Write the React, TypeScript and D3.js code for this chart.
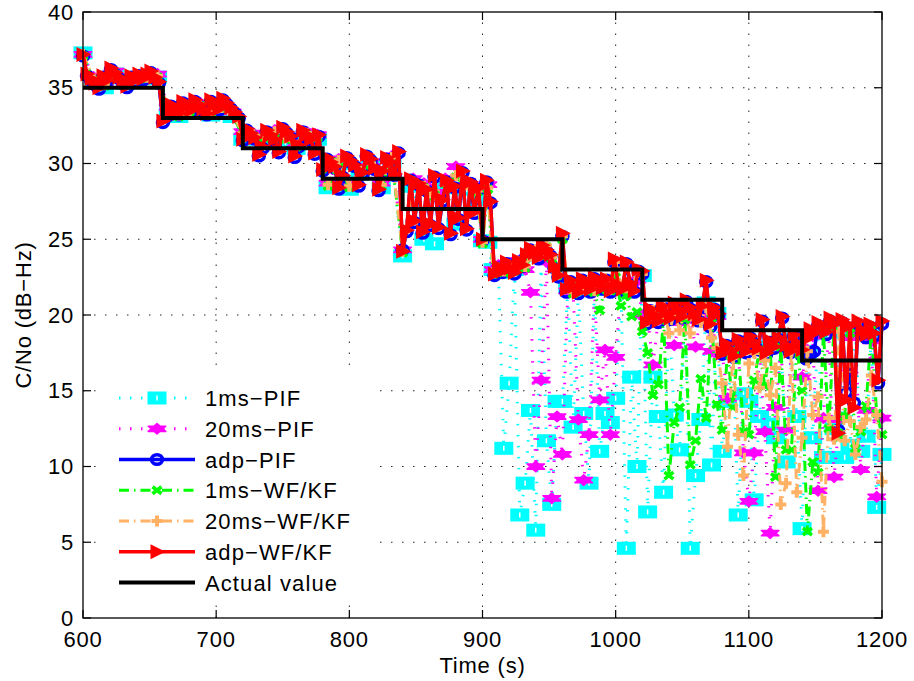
import React from 'react';
import * as d3 from 'd3';

// ---------- axis ----------
const xTicks = [600, 700, 800, 900, 1000, 1100, 1200];
const yTicks = [0, 5, 10, 15, 20, 25, 30, 35, 40];

// ---------- actual value (staircase) ----------
const actualTimes = [600, 660, 720, 780, 840, 900, 960, 1020, 1080, 1140, 1200];
const actualValues = [35, 33, 31, 29, 27, 25, 23, 21, 19, 17, 17];

// ---------- time grids ----------
const fineTimes = d3.range(600, 1201, 3);   // adaptive filters, every 3 s
const earlyTimes = d3.range(600, 897, 8);   // fixed filters, 600-896 s
const lateTimes = d3.range(900, 1201, 4);   // fixed filters, 900-1200 s

// ---------- adp-WF/KF (red), every 3 s ----------
const adpWFKF = [
  37.2, 35.9, 35.6, 35.3, 35.0, 35.8, 35.5, 36.3, 36.0, 35.7, 35.4, 35.1, 35.8, 35.5, 35.9, 35.6, 35.9, 36.1, 35.7, 35.4,
  32.8, 33.2, 33.9, 33.6, 33.3, 34.1, 33.8, 33.5, 34.2, 33.9, 33.6, 33.3, 34.2, 33.9, 33.6, 34.3, 34.0, 33.7, 33.4, 33.1,
  31.6, 32.3, 32.0, 31.7, 30.6, 31.1, 32.2, 31.9, 31.6, 30.8, 32.4, 32.1, 31.8, 30.5, 31.2, 32.2, 31.9, 31.6, 30.7, 31.9,
  29.6, 30.4, 30.1, 29.8, 28.4, 29.2, 30.5, 30.2, 29.9, 28.6, 29.4, 30.6, 30.3, 29.7, 28.3, 29.5, 30.4, 30.1, 29.3, 30.8,
  24.2, 25.6, 29.0, 26.2, 28.7, 25.5, 28.3, 26.0, 29.2, 25.8, 27.6, 28.9, 25.4, 28.5, 26.4, 29.5, 25.7, 28.8, 26.8, 28.4,
  25.0, 28.9, 27.5, 22.7, 23.2, 22.9, 23.5, 23.1, 22.8, 23.6, 23.3, 24.0, 24.4, 24.1, 23.8, 24.6, 24.3, 24.0, 23.2, 22.6,
  25.4, 21.7, 22.3, 21.9, 21.5, 22.4, 22.1, 21.7, 22.5, 22.2, 21.8, 22.4, 21.6, 23.7, 22.0, 21.7, 23.5, 22.1, 21.6, 23.0,
  22.9, 19.5, 20.4, 20.0, 19.6, 20.6, 20.2, 19.8, 20.8, 20.4, 19.9, 21.0, 20.5, 20.1, 19.7, 20.6, 22.3, 19.4, 20.5, 20.1,
  17.5, 18.1, 17.7, 17.3, 18.4, 18.0, 17.6, 18.6, 18.2, 17.8, 19.7, 17.5, 18.3, 17.9, 18.5, 19.9, 18.0, 17.6, 18.7, 18.1,
  17.7, 18.4, 19.1, 18.8, 19.5, 19.2, 18.9, 19.8, 19.4, 12.2, 19.7, 14.4, 19.3, 13.9, 19.6, 19.0, 18.7, 19.4, 18.8, 15.7,
  19.6,
];

// ---------- adp-PIF (blue), every 3 s ----------
const adpPIF = [
  37.1, 35.8, 35.5, 35.2, 34.9, 35.7, 35.4, 36.2, 35.9, 35.6, 35.3, 35.0, 35.7, 35.4, 35.8, 35.5, 35.8, 36.0, 35.6, 35.3,
  32.7, 33.1, 33.8, 33.5, 33.2, 34.0, 33.7, 33.4, 34.1, 33.8, 33.5, 33.2, 34.1, 33.8, 33.5, 34.2, 33.9, 33.6, 33.3, 33.0,
  31.5, 32.2, 31.9, 31.6, 30.5, 31.0, 32.1, 31.8, 31.5, 30.7, 32.3, 32.0, 31.7, 30.4, 31.1, 32.1, 31.8, 31.5, 30.6, 31.8,
  29.5, 30.3, 30.0, 29.7, 28.3, 29.1, 30.4, 30.1, 29.8, 28.5, 29.3, 30.5, 30.2, 29.6, 28.2, 29.4, 30.3, 30.0, 29.2, 30.7,
  24.3, 25.5, 28.9, 26.1, 28.6, 25.4, 28.2, 25.9, 29.1, 25.7, 27.5, 28.8, 25.3, 28.4, 26.3, 29.4, 25.6, 28.7, 26.7, 28.3,
  24.9, 28.8, 27.4, 22.6, 23.1, 22.8, 23.4, 23.0, 22.7, 23.5, 23.2, 23.9, 24.3, 24.0, 23.7, 24.5, 24.2, 23.9, 23.1, 22.5,
  25.2, 21.5, 22.2, 21.8, 21.4, 22.3, 22.0, 21.5, 22.4, 22.1, 21.7, 22.3, 21.5, 23.5, 21.9, 21.6, 23.4, 22.0, 21.5, 22.9,
  22.7, 19.4, 20.3, 19.9, 19.5, 20.5, 20.1, 19.7, 20.7, 20.3, 19.8, 20.9, 20.4, 20.0, 19.6, 20.5, 22.2, 19.2, 20.4, 20.0,
  17.4, 18.0, 17.6, 17.2, 18.3, 17.9, 17.5, 18.5, 18.1, 17.7, 19.6, 17.4, 18.2, 17.8, 18.4, 19.8, 17.9, 17.5, 18.6, 18.0,
  17.3, 17.1, 17.4, 17.6, 19.3, 19.0, 18.7, 19.6, 19.2, 12.4, 19.5, 14.9, 16.1, 14.2, 19.4, 18.8, 18.5, 19.2, 18.6, 15.5,
  19.4,
];

// ---------- fixed-bandwidth filters, early part (600-896 s, every 8 s) ----------
const pif1msEarly = [
  37.3, 35.4, 35.0, 35.9, 35.3, 35.5, 35.6, 35.7, 33.2, 33.1, 33.3, 33.8, 33.2, 33.5, 33.1,
  31.6, 31.7, 31.5, 31.9, 31.4, 31.0, 31.8, 31.6, 28.4, 30.0, 28.3, 29.3, 29.8, 28.4, 30.1,
  23.9, 28.5, 25.0, 24.7, 28.4, 26.0, 28.3, 27.6,
];
const pif20msEarly = [
  37.2, 35.7, 35.3, 36.1, 35.5, 35.7, 35.8, 35.9, 33.7, 33.4, 33.6, 34.0, 33.5, 33.8, 33.4,
  32.1, 32.0, 31.9, 32.2, 31.8, 31.3, 32.1, 31.9, 28.7, 30.3, 28.6, 29.7, 30.1, 28.7, 30.5,
  24.3, 29.0, 28.7, 28.1, 29.0, 29.8, 28.8, 28.4,
];
const wf1msEarly = [
  37.1, 35.5, 35.1, 35.9, 35.3, 35.5, 35.6, 35.7, 33.5, 33.1, 33.4, 33.8, 33.3, 33.6, 33.2,
  31.9, 31.8, 31.7, 32.0, 31.6, 31.1, 31.9, 31.7, 28.5, 30.1, 28.4, 29.5, 29.9, 28.5, 30.3,
  24.1, 28.7, 28.4, 27.8, 28.7, 29.1, 28.5, 28.1,
];
const wf20msEarly = [
  37.2, 35.6, 35.2, 36.0, 35.4, 35.6, 35.7, 35.8, 33.6, 33.2, 33.5, 33.9, 33.4, 33.7, 33.3,
  32.0, 31.9, 31.8, 32.1, 31.7, 31.2, 32.0, 31.8, 28.6, 30.2, 28.5, 29.6, 30.0, 28.6, 30.4,
  24.2, 28.8, 28.5, 27.9, 28.8, 29.2, 28.6, 28.2,
];

// ---------- fixed-bandwidth filters, late part (900-1200 s, every 4 s) ----------
const pif1msLate = [
  24.9, 24.8, 23.0, 22.8, 11.2, 15.5, 23.0, 6.8, 8.9, 13.7, 5.8, 23.8, 11.7, 7.5, 14.3,
  14.3, 21.8, 12.6, 21.6, 13.5, 8.9, 21.7, 11.0, 13.5, 12.9, 14.5, 21.8, 4.6, 15.9, 10.0,
  22.6, 7.0, 15.9, 13.3, 8.3, 20.0, 13.4, 11.1, 20.2, 4.6, 9.4, 13.1, 20.8, 10.1, 20.1,
  11.0, 14.3, 17.6, 6.8, 14.8, 14.3, 7.8, 13.3, 17.9, 12.8, 11.9, 18.4, 10.3, 17.8, 13.3,
  5.9, 17.6, 11.9, 18.8, 10.6, 10.6, 12.5, 18.9, 10.6, 11.4, 19.0, 11.0, 12.0, 18.6, 7.3, 10.8,
];
const pif20msLate = [
  25.0, 28.6, 23.0, 23.3, 23.1, 23.4, 23.2, 23.6, 23.0, 21.5, 10.0, 15.7, 23.5, 7.9, 13.3,
  10.8, 21.6, 21.7, 13.1, 9.1, 12.1, 21.8, 14.4, 17.7, 12.1, 17.2, 21.9, 21.6, 21.9, 22.3,
  20.0, 19.9, 16.7, 19.7, 20.2, 19.6, 18.0, 19.5, 20.2, 19.8, 17.9, 19.9, 20.0, 17.6, 19.9,
  17.4, 14.5, 17.5, 17.9, 10.9, 7.7, 10.9, 17.6, 12.3, 5.6, 13.9, 17.9, 12.4, 17.8, 17.6,
  15.9, 17.7, 18.6, 8.4, 13.2, 19.0, 9.3, 13.1, 19.3, 18.5, 19.0, 9.8, 13.7, 18.3, 8.0, 13.2,
];
const wf1msLate = [
  24.7, 28.3, 22.7, 23.0, 22.8, 23.2, 22.9, 23.4, 23.1, 23.8, 24.2, 23.9, 24.5, 23.7, 22.6,
  25.0, 21.7, 21.4, 21.9, 21.6, 22.2, 21.5, 20.3, 21.8, 21.6, 22.5, 20.6, 21.3, 19.9, 20.2,
  18.9, 17.5, 14.7, 15.4, 19.8, 9.4, 12.9, 13.9, 19.7, 10.1, 11.7, 15.8, 13.2, 19.8, 14.1,
  12.4, 17.6, 13.9, 18.0, 12.3, 12.1, 15.7, 17.7, 15.3, 18.0, 9.3, 17.9, 11.1, 11.1, 18.0,
  15.0, 5.7, 10.3, 9.6, 18.9, 12.5, 19.2, 11.9, 13.3, 18.8, 11.2, 12.3, 14.0, 19.0, 13.5, 12.1,
];
const wf20msLate = [
  24.8, 28.4, 22.8, 23.1, 22.9, 23.3, 23.0, 23.5, 23.2, 23.9, 24.3, 24.0, 24.6, 23.8, 22.7,
  25.2, 21.8, 21.5, 22.0, 21.7, 22.3, 21.6, 21.9, 22.4, 21.8, 23.5, 22.0, 21.8, 21.7, 22.8,
  22.7, 19.6, 20.3, 19.8, 20.5, 18.8, 20.1, 19.0, 20.3, 18.8, 19.7, 19.5, 20.5, 18.5, 17.8,
  15.5, 11.3, 17.2, 12.1, 9.4, 16.8, 17.5, 15.2, 17.0, 14.7, 16.5, 7.5, 8.9, 17.6, 8.3,
  11.9, 17.6, 13.4, 14.6, 5.7, 13.2, 11.8, 18.9, 11.7, 13.0, 10.8, 12.6, 13.1, 16.0, 13.4, 9.0,
];

const legendLabels = ['1ms\u2212PIF', '20ms\u2212PIF', 'adp\u2212PIF', '1ms\u2212WF/KF', '20ms\u2212WF/KF', 'adp\u2212WF/KF', 'Actual value'];

// ---------- layout ----------
const W = 914, H = 681;
const PL = 83, PR = 882, PT = 12, PB = 618;
const FONT = '"Liberation Sans", Arial, Helvetica, sans-serif';

const x = d3.scaleLinear().domain([600, 1200]).range([PL, PR]);
const y = d3.scaleLinear().domain([0, 40]).range([PB, PT]);

type Pt = [number, number];
const zip = (ts: number[], vs: number[]): Pt[] =>
  vs.map((v, i) => [ts[i], v] as Pt).filter((p) => p[0] !== undefined);

const line = d3.line<Pt>().x((d) => x(d[0])).y((d) => y(d[1]));
const stepLine = d3.line<Pt>().x((d) => x(d[0])).y((d) => y(d[1])).curve(d3.curveStepAfter);

const CYAN = '#00FFFF', MAG = '#FF00FF', BLUE = '#0000FF', GREEN = '#00FF00', ORANGE = '#FFB266', RED = '#FF0000';

function hexagram(cx: number, cy: number) {
  const pts: string[] = [];
  for (let k = 0; k < 12; k++) {
    const a = ((-90 + 30 * k) * Math.PI) / 180;
    const r = k % 2 === 0 ? 7 : 4;
    pts.push(`${(cx + r * Math.cos(a) * 1.45).toFixed(2)},${(cy + r * Math.sin(a) * 0.75).toFixed(2)}`);
  }
  return pts.join(' ');
}

type MarkerKind = 'square' | 'hexagram' | 'circle' | 'x' | 'plus' | 'tri';

function Marker({ kind, cx, cy, color }: { kind: MarkerKind; cx: number; cy: number; color: string }) {
  switch (kind) {
    case 'square':
      return (
        <g>
          <rect x={cx - 9.5} y={cy - 6.5} width={19} height={13} fill={color} />
          <rect x={cx - 0.75} y={cy - 2.5} width={1.5} height={5} fill="#fff" />
        </g>
      );
    case 'hexagram':
      return <polygon points={hexagram(cx, cy)} fill={color} stroke={color} strokeWidth={1.5} strokeLinejoin="round" />;
    case 'circle':
      return <ellipse cx={cx} cy={cy} rx={5.5} ry={4.8} fill="none" stroke={color} strokeWidth={3.5} />;
    case 'x':
      return <path d={`M${cx - 4.5},${cy - 3.5}L${cx + 4.5},${cy + 3.5}M${cx - 4.5},${cy + 3.5}L${cx + 4.5},${cy - 3.5}`} stroke={color} strokeWidth={3.5} />;
    case 'plus':
      return <path d={`M${cx - 5.5},${cy}H${cx + 5.5}M${cx},${cy - 5.5}V${cy + 5.5}`} stroke={color} strokeWidth={4} />;
    case 'tri':
      return <path d={`M${cx - 6.5},${cy - 7.5}L${cx + 8.5},${cy}L${cx - 6.5},${cy + 7.5}Z`} fill={color} />;
  }
  return null;
}

interface Series {
  label: string;
  color: string;
  width: number;
  dash?: string;
  marker: MarkerKind;
  points: Pt[];
}

const series: Series[] = [
  { label: legendLabels[0], color: CYAN, width: 3, dash: '1.5 9.5', marker: 'square', points: [...zip(earlyTimes, pif1msEarly), ...zip(lateTimes, pif1msLate)] },
  { label: legendLabels[1], color: MAG, width: 3, dash: '1.5 9.5', marker: 'hexagram', points: [...zip(earlyTimes, pif20msEarly), ...zip(lateTimes, pif20msLate)] },
  { label: legendLabels[2], color: BLUE, width: 3.5, marker: 'circle', points: zip(fineTimes, adpPIF) },
  { label: legendLabels[3], color: GREEN, width: 3, dash: '10 5 1.5 5', marker: 'x', points: [...zip(earlyTimes, wf1msEarly), ...zip(lateTimes, wf1msLate)] },
  { label: legendLabels[4], color: ORANGE, width: 3, dash: '10 5 1.5 5', marker: 'plus', points: [...zip(earlyTimes, wf20msEarly), ...zip(lateTimes, wf20msLate)] },
  { label: legendLabels[5], color: RED, width: 3.5, marker: 'tri', points: zip(fineTimes, adpWFKF) },
];

const actualPts = zip(actualTimes, actualValues);

export default function App() {
  const legendRowY = (i: number) => 398 + 30.75 * i;
  return (
    <svg width={W} height={H} style={{ display: 'block', position: 'absolute', left: 0, top: 0, background: '#fff' }} fontFamily={FONT}>
      <rect x={0} y={0} width={W} height={H} fill="#fff" />
      {/* grid */}
      <g stroke="#000" strokeWidth={1} strokeDasharray="1.5 9.5" opacity={0.85}>
        {xTicks.slice(1, -1).map((t) => (
          <line key={'gx' + t} x1={x(t)} x2={x(t)} y1={PB} y2={PT} />
        ))}
        {yTicks.slice(1, -1).map((t) => (
          <line key={'gy' + t} x1={PL} x2={PR} y1={y(t)} y2={y(t)} />
        ))}
      </g>

      {/* series */}
      {series.map((s, si) => (
        <g key={si}>
          <path d={line(s.points) || ''} fill="none" stroke={s.color} strokeWidth={s.width} strokeDasharray={s.dash} strokeLinejoin="round" />
          {s.points.map((p, i) => (
            <Marker key={i} kind={s.marker} cx={x(p[0])} cy={y(p[1])} color={s.color} />
          ))}
        </g>
      ))}
      <path d={stepLine(actualPts) || ''} fill="none" stroke="#000" strokeWidth={4} />

      {/* axes box and ticks */}
      <rect x={PL} y={PT} width={PR - PL} height={PB - PT} fill="none" stroke="#000" strokeWidth={1.3} />
      <g stroke="#000" strokeWidth={1.2}>
        {xTicks.map((t) => (
          <g key={'tx' + t}>
            <line x1={x(t)} x2={x(t)} y1={PB} y2={PB - 8} />
            <line x1={x(t)} x2={x(t)} y1={PT} y2={PT + 8} />
          </g>
        ))}
        {yTicks.map((t) => (
          <g key={'ty' + t}>
            <line x1={PL} x2={PL + 8} y1={y(t)} y2={y(t)} />
            <line x1={PR} x2={PR - 8} y1={y(t)} y2={y(t)} />
          </g>
        ))}
      </g>
      <g fontSize={22} fill="#000" letterSpacing={0.8}>
        {xTicks.map((t) => (
          <text key={'lx' + t} x={x(t)} y={647} textAnchor="middle">{t}</text>
        ))}
        {yTicks.map((t) => (
          <text key={'ly' + t} x={74} y={y(t) + 7.5} textAnchor="end">{t}</text>
        ))}
        <text x={(PL + PR) / 2} y={673} textAnchor="middle">Time (s)</text>
        <text transform={`translate(31,${(PT + PB) / 2}) rotate(-90)`} textAnchor="middle">C/No (dB{'\u2212'}Hz)</text>
      </g>

      {/* legend */}
      <rect x={97} y={374} width={281} height={228} fill="#fff" />
      {series.map((s, i) => (
        <g key={'lg' + i}>
          <line x1={119} x2={195} y1={legendRowY(i)} y2={legendRowY(i)} stroke={s.color} strokeWidth={s.width} strokeDasharray={s.dash} />
          <Marker kind={s.marker} cx={157} cy={legendRowY(i)} color={s.color} />
          <text x={205} y={legendRowY(i) + 8} fontSize={22} letterSpacing={1.1}>{s.label}</text>
        </g>
      ))}
      <g>
        <line x1={119} x2={195} y1={legendRowY(6)} y2={legendRowY(6)} stroke="#000" strokeWidth={4} />
        <text x={205} y={legendRowY(6) + 8} fontSize={22} letterSpacing={1.1}>{legendLabels[6]}</text>
      </g>
    </svg>
  );
}
